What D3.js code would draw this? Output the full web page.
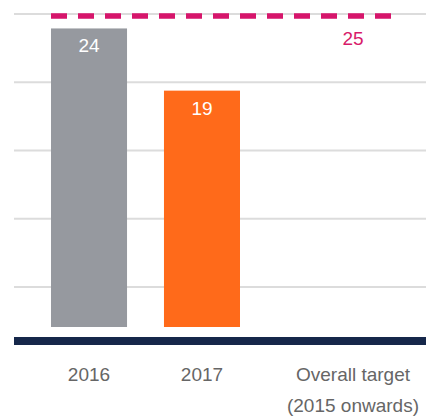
<!DOCTYPE html>
<html lang="en">
<head>
    <meta charset="UTF-8">
    <title>Target chart</title>
    <style>
        body {
            margin: 0;
            overflow: hidden;
            background: #fff;
        }
        svg text {
            font-family: "Helvetica Neue", "Liberation Sans", Arial, sans-serif;
        }
    </style>
</head>
<body>
    <svg id="chart" width="426" height="417"></svg>

    <script src="https://d3js.org/d3.v7.min.js"></script>
    <script>
        // Chart values
        const years = ["2016", "2017"];
        const values = [24, 19];
        const barColors = ["#96999f", "#ff6a1a"];
        const targetValue = 25;
        const targetLabel = ["Overall target", "(2015 onwards)"];
        const gridCount = 5;

        const width = 426;
        const height = 417;
        const svg = d3.select("#chart");

        // Scales
        const x = d3.scaleBand()
            .domain(years)
            .range([51, 240])
            .paddingInner(0.327)
            .paddingOuter(0);

        const y = d3.scaleLinear()
            .domain([0, targetValue])
            .range([327, 16]);

        const grid = d3.scaleLinear()
            .domain([0, gridCount - 1])
            .range([14, 287]);

        const targetEnd = 391;
        const targetX = targetEnd - x.bandwidth() / 2;

        // Gridlines
        svg.selectAll(".grid")
            .data(d3.range(gridCount))
            .enter()
            .append("line")
            .attr("class", "grid")
            .attr("x1", 14)
            .attr("x2", width)
            .attr("y1", d => grid(d))
            .attr("y2", d => grid(d))
            .attr("stroke", "#dcdcdc")
            .attr("stroke-width", 2);

        // Bars
        const bars = years.map((yr, i) => ({ year: yr, value: values[i], color: barColors[i] }));
        svg.selectAll(".bar")
            .data(bars)
            .enter()
            .append("rect")
            .attr("class", "bar")
            .attr("x", d => x(d.year))
            .attr("y", d => y(d.value))
            .attr("width", x.bandwidth())
            .attr("height", d => y(0) - y(d.value))
            .attr("fill", d => d.color);

        svg.selectAll(".bar-label")
            .data(bars)
            .enter()
            .append("text")
            .attr("class", "bar-label")
            .attr("x", d => x(d.year) + x.bandwidth() / 2)
            .attr("y", d => y(d.value) + 24)
            .attr("text-anchor", "middle")
            .attr("font-size", "19px")
            .attr("fill", "#fff")
            .text(d => d.value);

        // Target line
        svg.append("line")
            .attr("x1", x(years[0]))
            .attr("x2", targetEnd)
            .attr("y1", y(targetValue))
            .attr("y2", y(targetValue))
            .attr("stroke", "#d6156b")
            .attr("stroke-width", 5.5)
            .attr("stroke-dasharray", "16 11");

        svg.append("text")
            .attr("x", targetX)
            .attr("y", 45)
            .attr("text-anchor", "middle")
            .attr("font-size", "19px")
            .attr("fill", "#d81b6a")
            .text(targetValue);

        // Baseline
        svg.append("rect")
            .attr("x", 14)
            .attr("y", 337)
            .attr("width", width - 14)
            .attr("height", 8)
            .attr("fill", "#16274a");

        // Category labels
        svg.selectAll(".cat")
            .data(years)
            .enter()
            .append("text")
            .attr("class", "cat")
            .attr("x", d => x(d) + x.bandwidth() / 2)
            .attr("y", 381)
            .attr("text-anchor", "middle")
            .attr("font-size", "19px")
            .attr("fill", "#666")
            .text(d => d);

        const tl = svg.append("text")
            .attr("x", targetX)
            .attr("y", 381)
            .attr("text-anchor", "middle")
            .attr("font-size", "19px")
            .attr("fill", "#666");
        targetLabel.forEach((line, i) => {
            tl.append("tspan")
                .attr("x", targetX)
                .attr("dy", i === 0 ? 0 : 30.5)
                .text(line);
        });
    </script>
</body>
</html>
